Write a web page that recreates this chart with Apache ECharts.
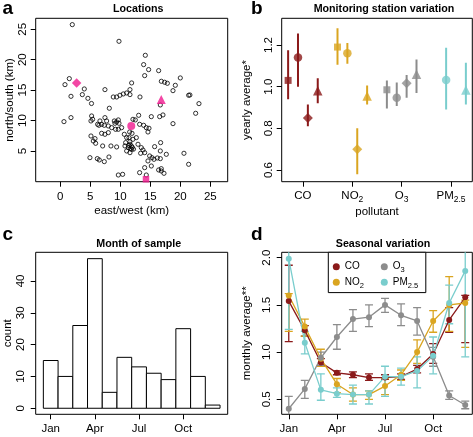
<!DOCTYPE html>
<html><head><meta charset="utf-8">
<script src="https://cdn.jsdelivr.net/npm/echarts@6/dist/echarts.min.js"></script>
<style>html,body{margin:0;padding:0;background:#fff}#c{width:473px;height:437px}</style>
</head><body><div id="c"></div>
<script>
// ---------- Panel a: sampling locations (km) ----------
const siteEast = [2.0,9.78,1.5,0.78,4.0,1.78,3.67,4.6,5.2,7.44,8.83,9.39,9.94,10.5,11.06,11.61,11.89,11.61,
  14.17,13.89,14.72,16.39,14.06,16.84,17.39,17.84,20.0,19.17,18.78,21.39,21.6,13.28,
  23.11,22.56,16.67,15.17,16.56,17.11,18.78,13.06,12.11,12.5,13.22,13.89,14.33,14.78,14.61,11.56,11.95,11.45,12.11,12.67,11.84,12.95,13.5,13.78,14.06,13.39,16.72,15.72,16.67,17.67,14.89,15.28,15.61,16.17,16.67,20.61,21.39,14.61,15.17,14.06,16.39,16.83,17.28,16.83,13.22,14.33,
  11.6,11.7,12.0,11.4,12.2,
  0.61,1.78,5.22,5.39,5.11,6.61,6.22,7.44,7.72,7.33,6.44,6.89,8.0,8.56,9.0,9.39,9.67,9.11,9.78,9.22,9.67,10.22,6.89,7.44,8.0,5.11,5.78,5.5,5.89,7.06,8.44,9.39,4.94,6.17,6.5,7.33,8.11,9.67,10.39,10.67,11.06,10.89,11.61,10.78,11.33,11.89,11.06,11.61,8.17];
const siteNorth = [25.76,23.02,16.89,15.9,15.19,13.98,14.26,13.65,12.8,15.08,13.87,13.87,14.15,14.37,14.53,14.26,16.18,15.08,
  20.72,19.19,18.37,18.2,17.38,16.45,16.29,16.12,17.0,15.79,14.91,14.15,14.2,13.87,
  12.78,11.19,12.56,10.64,10.64,10.92,9.49,10.86,10.2,10.1,9.38,9.22,8.83,8.73,8.12,8.12,7.9,7.19,6.92,7.19,5.82,6.1,5.55,5.16,4.72,4.62,6.37,5.71,5.0,4.45,4.18,3.9,3.63,3.85,3.74,4.62,2.81,3.36,2.53,2.26,1.88,2.09,1.33,1.71,1.44,1.05,
  6.5,5.4,5.6,5.9,5.3,
  9.82,10.48,10.75,10.2,9.93,9.93,9.38,10.48,9.93,9.22,9.22,9.38,9.11,8.83,9.93,9.77,10.1,9.55,9.55,8.56,8.56,8.83,7.9,7.74,8.01,7.46,7.03,6.64,6.26,5.82,5.82,5.66,3.9,3.74,3.52,3.25,4.01,1.05,1.16,7.74,7.19,6.37,6.1,5.82,5.55,5.27,5.0,4.72,12.02];
// monitoring stations: square, circle, diamond, triangle
const stationShapes = ['rect','circle','diamond','triangle'];
const stationEast = [14.28, 11.83, 2.72, 16.83];
const stationNorth = [0.35, 9.1, 16.15, 13.45];
const eastTicks = [0,5,10,15,20,25];
const northTicks = [5,10,15,20,25];

// ---------- Panel b: station variation (yearly average) ----------
const pollutants = ['CO','NO2','O3','PM2.5'];
const yearCO    = [1.03, 1.14, 0.85, 0.98];
const yearCOlo  = [0.94, 1.00, 0.81, 0.92];
const yearCOhi  = [1.175,1.255,0.915,1.04];
const yearNO2   = [1.19, 1.16, 0.70, 0.955];
const yearNO2lo = [1.105,1.11, 0.58, 0.915];
const yearNO2hi = [1.28, 1.21, 0.80, 1.005];
const yearO3    = [0.985,0.947,1.016,1.06];
const yearO3lo  = [0.895,0.907,0.947,0.97];
const yearO3hi  = [1.03, 1.02, 1.056,1.13];
const yearPM    = [null, 1.032,null, 0.984];
const yearPMlo  = [null, 0.89, null, 0.915];
const yearPMhi  = [null, 1.187,null, 1.115];
const yearlyTicks = [0.6,0.8,1.0,1.2];

// ---------- Panel c: month of sample ----------
const monthNames = ['Jan','Feb','Mar','Apr','May','Jun','Jul','Aug','Sep','Oct','Nov','Dec'];
const months = [1,2,3,4,5,6,7,8,9,10,11,12];
const sampleCount = [15,10,26,47,5,16,13,11,9,25,10,1];
const countTicks = [0,10,20,30,40];
const monthTicks = [1,4,7,10];

// ---------- Panel d: seasonal variation (monthly average) ----------
const monCO    = [1.54,1.23,0.89,0.78,0.76,0.73,0.73,0.74,0.82,0.98,1.34,1.58];
const monCOlo  = [1.11,1.17,0.85,0.76,0.73,0.70,0.71,0.71,0.78,0.88,1.21,1.10];
const monCOhi  = [1.92,1.28,0.93,0.80,0.79,0.77,0.76,0.77,0.86,1.09,1.47,1.60];
const monNO2   = [1.60,1.27,0.93,0.66,0.55,0.55,0.64,0.76,1.00,1.33,1.50,1.52];
const monNO2lo = [1.22,1.17,0.85,0.57,0.48,0.50,0.55,0.70,0.88,1.21,1.22,1.05];
const monNO2hi = [1.62,1.35,1.03,0.72,0.62,0.59,0.72,0.81,1.13,1.44,1.80,1.55];
const monO3    = [0.40,0.61,0.94,1.16,1.35,1.37,1.50,1.39,1.33,0.95,0.54,0.44];
const monO3lo  = [0.27,0.51,0.86,1.03,1.22,1.27,1.42,1.28,1.18,0.85,0.50,0.40];
const monO3hi  = [0.53,0.70,1.00,1.29,1.45,1.50,1.57,1.51,1.47,1.05,0.59,0.48];
const monPM    = [1.99,1.10,0.60,0.56,0.55,0.55,0.74,0.74,0.80,0.96,1.52,1.86];
const monPMlo  = [1.24,0.98,0.49,0.52,0.45,0.45,0.53,0.65,0.62,0.77,1.30,0.95];
const monPMhi  = [2.30,1.22,0.77,0.62,0.65,0.59,0.85,0.83,0.95,1.16,1.71,2.30];
const monthlyTicks = [0.5,1.0,1.5,2.0];

// ---------- styling ----------
const FONT = '"Liberation Sans", Arial, Helvetica, sans-serif';
const FS = 11.5;
const PINK = '#F0198F';
const COL = {'CO':'#8B1A1A','NO2':'#DAA520','O3':'#8C8C8C','PM2.5':'#79CDCD'};
const stationSizes = {rect:6.5, circle:8, diamond:9.5, triangle:9};
const stationOffset = [-0.3,-0.1,0.1,0.3];

function richName(n){ const m = n.match(/^([A-Za-z]+)([\d.]+)$/); return m ? m[1] + '{s|' + m[2] + '}' : n; }

const grids = [
  {left:35.7, top:18.3, width:192, height:163.4},
  {left:281.7, top:18.3, width:190.6, height:163.4},
  {left:35.7, top:252.3, width:192, height:162},
  {left:281.7, top:252.3, width:190.6, height:162}
].map(g => Object.assign({show:true, borderColor:'#000', borderWidth:1, backgroundColor:'transparent', containLabel:false, outerBoundsMode:'none'}, g));

function mkAxis(gi, min, max, ticks, o){
  return {
    type:'value', gridIndex:gi, min:min, max:max, scale:true,
    name:o.name || '', nameLocation:'middle', nameGap:o.nameGap || 20,
    nameTextStyle:{fontSize:FS, color:'#000', fontFamily:FONT},
    axisLine:{show:false, onZero:false},
    axisTick:{show:true, length:5, customValues:ticks, lineStyle:{color:'#000', width:1}},
    axisLabel:{show:true, customValues:ticks, margin:o.margin, rotate:o.rotate || 0, color:'#000', fontSize:FS, fontFamily:FONT,
      formatter:o.fmt || (v => String(v)), rich:{s:{fontSize:8.5, lineHeight:8.5, padding:[4,0,-4,0], color:'#000', fontFamily:FONT}}},
    splitLine:{show:false}
  };
}

const xAxes = [
  mkAxis(0, -4.1, 27.9, eastTicks, {name:'east/west (km)', nameGap:23.6, margin:9.5}),
  mkAxis(1, 0.57, 4.43, [1,2,3,4], {name:'pollutant', nameGap:24.5, margin:8, fmt:v => richName(pollutants[Math.round(v)-1])}),
  mkAxis(2, -0.02, 13.02, monthTicks, {margin:8.5, fmt:v => monthNames[Math.round(v)-1]}),
  mkAxis(3, 0.56, 12.44, monthTicks, {margin:8.5, fmt:v => monthNames[Math.round(v)-1]})
];
const yAxes = [
  mkAxis(0, -0.05, 26.8, northTicks, {name:'north/south (km)', nameGap:18, margin:6.7, rotate:90}),
  mkAxis(1, 0.544, 1.328, yearlyTicks, {name:'yearly average*', nameGap:29, margin:7, rotate:90, fmt:v => v.toFixed(1)}),
  mkAxis(2, -1.9, 49.0, countTicks, {name:'count', nameGap:21, margin:8.7, rotate:90}),
  mkAxis(3, 0.341, 2.057, monthlyTicks, {name:'monthly average**', nameGap:29, margin:8.7, rotate:90, fmt:v => v.toFixed(1)})
];

const series = [];
// panel a
series.push({type:'scatter', xAxisIndex:0, yAxisIndex:0, silent:true,
  data: siteEast.map((x,i) => [x, siteNorth[i]]),
  symbol:'circle', symbolSize:4.2,
  itemStyle:{color:'rgba(0,0,0,0)', borderColor:'#000', borderWidth:1}});
series.push({type:'scatter', xAxisIndex:0, yAxisIndex:0, silent:true, clip:false,
  data: stationEast.map((x,i) => ({value:[x, stationNorth[i]], symbol:stationShapes[i], symbolSize:stationSizes[stationShapes[i]]})),
  itemStyle:{color:PINK}});

// panel b
const yearly = {'CO':[yearCO,yearCOlo,yearCOhi], 'NO2':[yearNO2,yearNO2lo,yearNO2hi], 'O3':[yearO3,yearO3lo,yearO3hi], 'PM2.5':[yearPM,yearPMlo,yearPMhi]};
pollutants.forEach((p, pi) => {
  const [v, lo, hi] = yearly[p];
  const pts = [];
  v.forEach((val, s) => { if (val != null) pts.push({value:[pi + 1 + stationOffset[s], val, lo[s], hi[s]], symbol:stationShapes[s], symbolSize:stationSizes[stationShapes[s]] + 0.5}); });
  series.push({type:'custom', name:'b-err-' + p, xAxisIndex:1, yAxisIndex:1, silent:true, clip:true,
    data: pts.map(d => d.value), encode:{x:0, y:[2,3]},
    renderItem:(params, api) => {
      const a = api.coord([api.value(0), api.value(2)]), b = api.coord([api.value(0), api.value(3)]);
      return {type:'line', shape:{x1:a[0], y1:a[1], x2:b[0], y2:b[1]}, style:{stroke:COL[p], lineWidth:2}};
    }});
  series.push({type:'scatter', name:'b-' + p, xAxisIndex:1, yAxisIndex:1, silent:true, data:pts, itemStyle:{color:COL[p]}});
});

// panel c
series.push({type:'custom', xAxisIndex:2, yAxisIndex:2, silent:true,
  data: months.map((m,i) => [m, sampleCount[i]]), encode:{x:0, y:1},
  renderItem:(params, api) => {
    const m = api.value(0), c = api.value(1);
    const p0 = api.coord([m - 0.5, c]), p1 = api.coord([m + 0.5, 0]);
    return {type:'rect', shape:{x:p0[0], y:p0[1], width:p1[0]-p0[0], height:p1[1]-p0[1]}, style:{fill:'#fff', stroke:'#000', lineWidth:1}};
  }});

// panel d
const monthly = {'CO':[monCO,monCOlo,monCOhi], 'NO2':[monNO2,monNO2lo,monNO2hi], 'O3':[monO3,monO3lo,monO3hi], 'PM2.5':[monPM,monPMlo,monPMhi]};
pollutants.forEach(p => {
  const [v, lo, hi] = monthly[p];
  series.push({type:'custom', name:'d-err-' + p, xAxisIndex:3, yAxisIndex:3, silent:true, clip:true,
    data: months.map((m,i) => [m, lo[i], hi[i]]), encode:{x:0, y:[1,2]},
    renderItem:(params, api) => {
      const a = api.coord([api.value(0), api.value(1)]), b = api.coord([api.value(0), api.value(2)]);
      const hw = 4, st = {stroke:COL[p], lineWidth:1.3};
      return {type:'group', children:[
        {type:'line', shape:{x1:a[0], y1:a[1], x2:b[0], y2:b[1]}, style:st},
        {type:'line', shape:{x1:a[0]-hw, y1:a[1], x2:a[0]+hw, y2:a[1]}, style:st},
        {type:'line', shape:{x1:b[0]-hw, y1:b[1], x2:b[0]+hw, y2:b[1]}, style:st}
      ]};
    }});
});
pollutants.forEach(p => {
  const v = monthly[p][0];
  series.push({type:'line', name:p, xAxisIndex:3, yAxisIndex:3, silent:true,
    data: months.map((m,i) => [m, v[i]]),
    symbol:'circle', symbolSize:6, showSymbol:true,
    lineStyle:{color:COL[p], width:1.3}, itemStyle:{color:COL[p]}});
});

const txt = (t, x, y, size, bold, align) => ({type:'text', x:x, y:y, silent:true,
  style:{text:t, fill:'#000', fontSize:size, fontWeight:bold ? 'bold' : 'normal', fontFamily:FONT, align:align || 'center', verticalAlign:'middle'}});

const option = {
  animation:false,
  backgroundColor:'#fff',
  textStyle:{fontFamily:FONT},
  grid:grids, xAxis:xAxes, yAxis:yAxes, series:series,
  legend:{
    data:['CO','O3','NO2','PM2.5'], left:328.3, top:252.3, width:94, orient:'horizontal',
    icon:'circle', itemWidth:7, itemHeight:7, itemGap:3,
    padding:[9.35,0,2.95,4.5], borderColor:'#000', borderWidth:1, backgroundColor:'#fff',
    selectedMode:false,
    formatter:n => richName(n),
    textStyle:{fontSize:10, lineHeight:8.7, width:33, color:'#000', fontFamily:FONT,
      rich:{s:{fontSize:7.5, lineHeight:7.5, padding:[3.5,0,-3.5,0], color:'#000', fontFamily:FONT}}}
  },
  graphic:[
    txt('Locations', 138.3, 9.3, 10.7, true),
    txt('Monitoring station variation', 384, 9.3, 10.7, true),
    txt('Month of sample', 138.7, 243.9, 10.7, true),
    txt('Seasonal variation', 383, 243.9, 10.7, true),
    txt('a', 2.5, 8.4, 19, true, 'left'),
    txt('b', 251, 8.4, 19, true, 'left'),
    txt('c', 2.5, 234.4, 19, true, 'left'),
    txt('d', 251, 235, 19, true, 'left')
  ]
};
const chart = echarts.init(document.getElementById('c'), null, {renderer:'canvas'});
chart.setOption(option);
</script></body></html>
